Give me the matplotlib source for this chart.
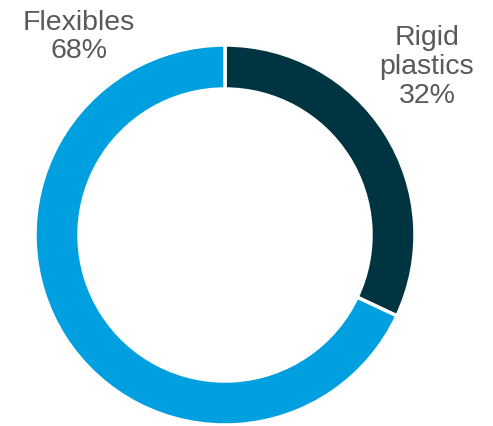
import matplotlib
matplotlib.use("Agg")
import matplotlib.pyplot as plt

categories = ["Rigid\nplastics", "Flexibles"]
values = [32, 68]
colors = ["#003441", "#009FDF"]

W, H = 493, 426
fig = plt.figure(figsize=(W / 100, H / 100), dpi=100)
ax = fig.add_axes([0, 0, 1, 1])

cx, cy, r = 225, H - 235, 190
ax.pie(values, colors=colors, startangle=90, counterclock=False,
       center=(cx, cy), radius=r, frame=True,
       wedgeprops=dict(width=44, edgecolor="white", linewidth=2.5))
ax.set_xlim(0, W)
ax.set_ylim(0, H)
ax.set_aspect("equal")
ax.axis("off")

font = dict(family=["Liberation Sans", "DejaVu Sans"], fontsize=20.5, color="#595959",
            ha="center", va="center", linespacing=1.15)
ax.text(79, H - 37, f"{categories[1]}\n{values[1]}%", **font)
ax.text(427, H - 67, f"{categories[0]}\n{values[0]}%", **font)

fig.savefig("out.png", dpi=100)
